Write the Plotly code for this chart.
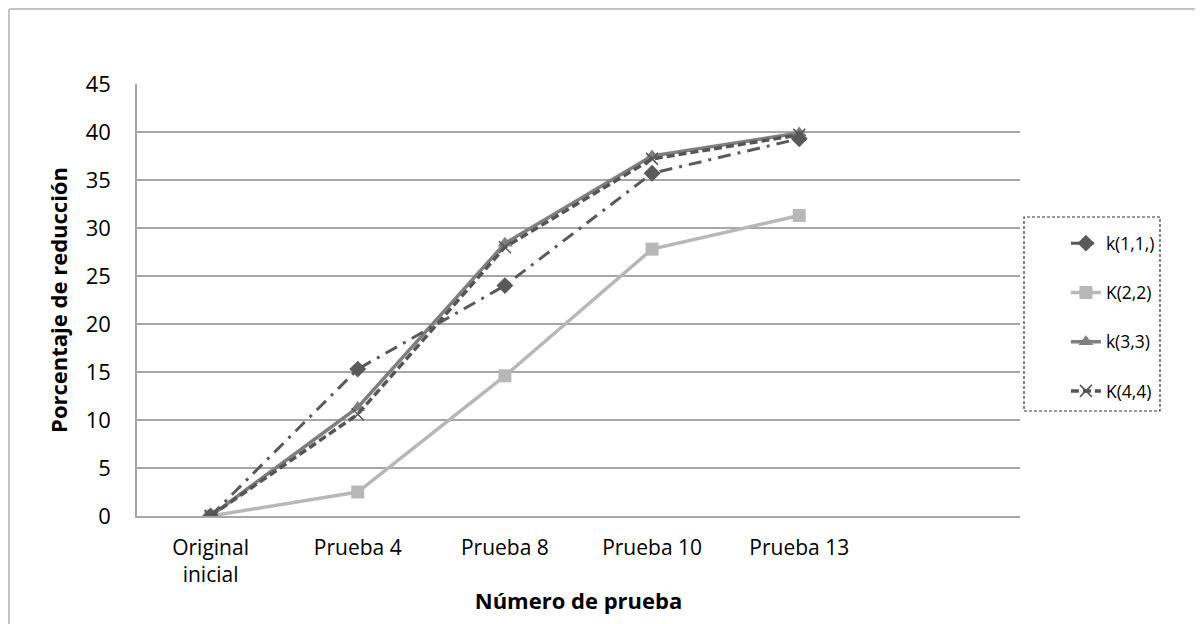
import plotly.graph_objects as go

categories = ["Original<br>inicial", "Prueba 4", "Prueba 8", "Prueba 10", "Prueba 13", " "]
k11 = [0, 15.3, 24.0, 35.7, 39.3]
k22 = [0, 2.5, 14.6, 27.8, 31.3]
k33 = [0, 11.3, 28.4, 37.5, 39.9]
k44 = [0, 10.6, 28.0, 37.2, 39.7]
names = ["k(1,1,)", "K(2,2)", "k(3,3)", "K(4,4)"]
y_ticks = [0, 5, 10, 15, 20, 25, 30, 35, 40, 45]

FONT = "'Open Sans', Lato, sans-serif"
x = categories[:5]

# page has an 8px body offset; plot area target (page px): x 137-1020, y 84-516
L, T = 129, 76
PW, PH = 883, 432

fig = go.Figure()
fig.add_trace(go.Scatter(
    x=x, y=k33, name=names[2], mode="lines+markers", legendgroup="c", legendrank=3,
    line=dict(color="#7f7f7f", width=3.5),
    marker=dict(symbol="triangle-up", size=13, color="#7f7f7f")))
fig.add_trace(go.Scatter(
    x=x, y=k22, name=names[1], mode="lines+markers", legendgroup="b", legendrank=2,
    line=dict(color="#b7b7b7", width=3.5),
    marker=dict(symbol="square", size=13, color="#b7b7b7")))
fig.add_trace(go.Scatter(
    x=x, y=k11, name=names[0], mode="lines+markers", legendgroup="a", legendrank=1,
    line=dict(color="#5a5a5a", width=3, dash="13px,7px,3px,7px"),
    marker=dict(symbol="diamond", size=13, color="#5a5a5a")))
fig.add_trace(go.Scatter(
    x=x, y=k44, name=names[3], mode="lines+markers", legendgroup="d", legendrank=4,
    line=dict(color="#555555", width=3.5, dash="8px,4px"),
    marker=dict(symbol="x-thin-open", size=12, line=dict(color="#444444", width=1.5))))

fig.update_layout(
    width=1203, height=624,
    margin=dict(l=L, r=1203 - L - PW, t=T, b=624 - T - PH),
    paper_bgcolor="white", plot_bgcolor="white",
    font=dict(family=FONT, size=22, color="black"),
    showlegend=True,
    legend=dict(x=1.052, y=0.673, xanchor="left", yanchor="top",
                font=dict(family=FONT, size=17.5, color="black"),
                tracegroupgap=23.5, bgcolor="rgba(0,0,0,0)"),
    xaxis=dict(
        type="category", categoryorder="array", categoryarray=categories,
        range=[-0.5, 5.5], showgrid=False, showline=True, linecolor="#a6a6a6",
        linewidth=1.5, ticks="", tickfont=dict(size=21), ticklabelstandoff=12,
        automargin=False,
        title=dict(text="<b>Número de prueba</b>", font=dict(size=22), standoff=6),
    ),
    yaxis=dict(
        range=[0, 45], tickvals=y_ticks, showgrid=True, gridcolor="#a6a6a6",
        gridwidth=1.5, showline=True, linecolor="#a6a6a6", linewidth=1.5,
        zeroline=False, ticks="", tickfont=dict(size=22), ticklabelstandoff=20,
        automargin=False,
        title=dict(text="<b>Porcentaje de reducción</b>", font=dict(size=22), standoff=12),
    ),
    shapes=[
        dict(type="rect", xref="paper", yref="paper",
             x0=(1024 - 8 - L) / PW, x1=(1160 - 8 - L) / PW,
             y0=(T + PH - (411 - 8)) / PH, y1=(T + PH - (217 - 8)) / PH,
             line=dict(color="#333333", width=1.2, dash="3px,2px"), fillcolor="rgba(0,0,0,0)"),
        dict(type="rect", xref="paper", yref="paper",
             x0=(-L + 1) / PW, x1=1.3, y0=-0.4, y1=1 + (T - 1) / PH,
             line=dict(color="#888888", width=1), fillcolor="rgba(0,0,0,0)", layer="below"),
    ],
)

fig.write_html("out.html")
